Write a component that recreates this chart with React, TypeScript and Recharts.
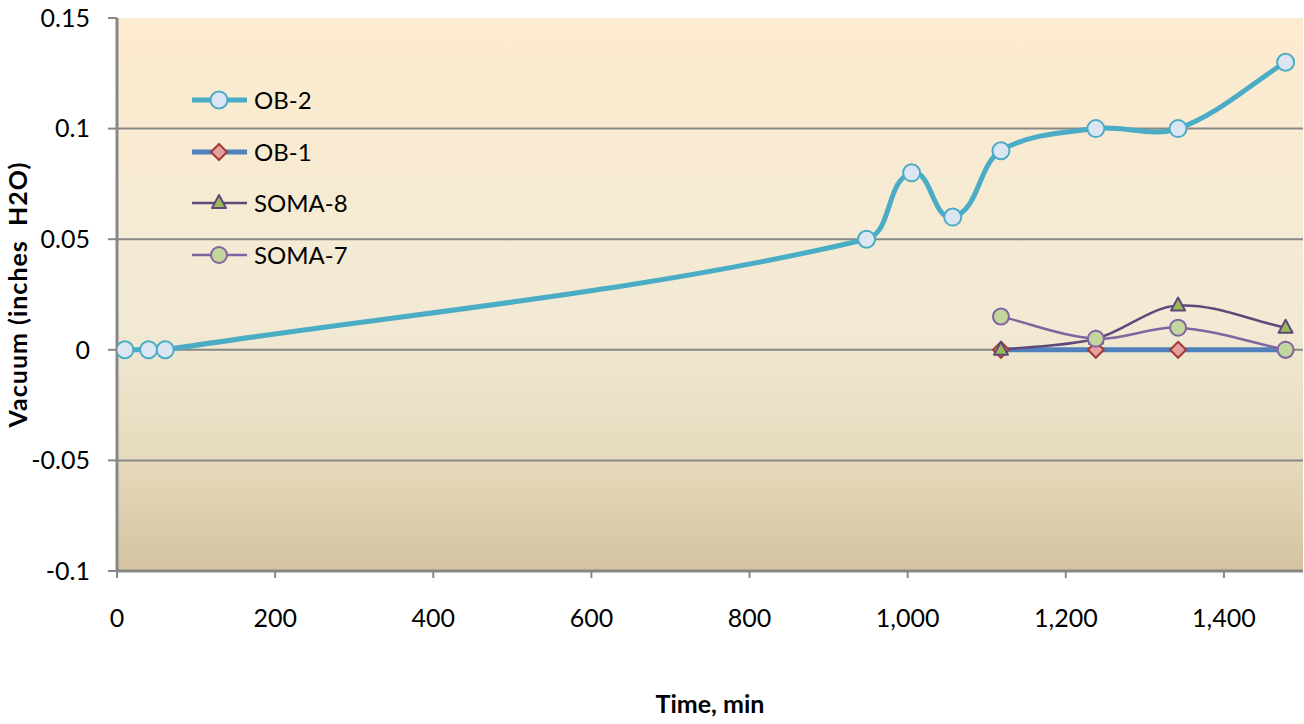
import React from 'react'
import { LineChart, Line, XAxis, YAxis, CartesianGrid, Legend } from 'recharts'

// OB-2 was read on its own time base, the other three share a later one
const ob2Time = [10, 40, 61, 948, 1005, 1057, 1118, 1238, 1342, 1478]
const ob2Vals = [0, 0, 0, 0.05, 0.08, 0.06, 0.09, 0.1, 0.1, 0.13]

const somaTime = [1118, 1238, 1342, 1478]
const ob1Vals = [0, 0, 0, 0]
const soma8Vals = [0, 0.005, 0.02, 0.01]
const soma7Vals = [0.015, 0.005, 0.01, 0]

const xTicks = [0, 200, 400, 600, 800, 1000, 1200, 1400]
const yTicks = [-0.1, -0.05, 0, 0.05, 0.1, 0.15]

const FONT = 'Lato, "Open Sans", sans-serif'
const AXIS_GRAY = '#878787'

const toRows = (t: number[], v: number[]) => t.map((x, i) => ({ t: x, v: v[i] }))

const ob2Data = toRows(ob2Time, ob2Vals)
const ob1Data = toRows(somaTime, ob1Vals)
const soma8Data = toRows(somaTime, soma8Vals)
const soma7Data = toRows(somaTime, soma7Vals)

// rough take on Excel's "smoothed line": tangent from neighbours,
// handle length scaled to each segment so short hops don't loop
function excelSmooth(context: any) {
  let pts: number[][] = []
  return {
    areaStart() {},
    areaEnd() {},
    lineStart() { pts = [] },
    point(x: number, y: number) { pts.push([+x, +y]) },
    lineEnd() {
      const n = pts.length
      if (!n) return
      context.moveTo(pts[0][0], pts[0][1])
      if (n === 1) return
      const tan = pts.map((p, i) => {
        const a = pts[Math.max(0, i - 1)]
        const b = pts[Math.min(n - 1, i + 1)]
        const dx = b[0] - a[0]
        const dy = b[1] - a[1]
        const len = Math.hypot(dx, dy) || 1
        return [dx / len, dy / len]
      })
      const s = 1 / 3
      for (let i = 0; i < n - 1; i++) {
        const p1 = pts[i]
        const p2 = pts[i + 1]
        const d = Math.hypot(p2[0] - p1[0], p2[1] - p1[1])
        context.bezierCurveTo(
          p1[0] + tan[i][0] * d * s, p1[1] + tan[i][1] * d * s,
          p2[0] - tan[i + 1][0] * d * s, p2[1] - tan[i + 1][1] * d * s,
          p2[0], p2[1],
        )
      }
    },
  }
}

const SERIES = {
  ob2: { name: 'OB-2', stroke: '#4BACC6', width: 5, fill: '#DCE6F2', mark: '#4BACC6' },
  ob1: { name: 'OB-1', stroke: '#4F81BD', width: 5, fill: '#E6A09E', mark: '#A33B36' },
  soma8: { name: 'SOMA-8', stroke: '#5F497A', width: 2.5, fill: '#9BBB59', mark: '#5F497A' },
  soma7: { name: 'SOMA-7', stroke: '#8064A2', width: 2.5, fill: '#C3D69B', mark: '#8064A2' },
}

function Marker({ kind, cx, cy }: { kind: string; cx: number; cy: number }) {
  if (kind === 'ob1') {
    const s = SERIES.ob1
    return (
      <polygon points={`${cx},${cy - 8} ${cx + 8},${cy} ${cx},${cy + 8} ${cx - 8},${cy}`}
        fill={s.fill} stroke={s.mark} strokeWidth={2} />
    )
  }
  if (kind === 'soma8') {
    const s = SERIES.soma8
    return (
      <polygon points={`${cx},${cy - 8} ${cx + 7},${cy + 5} ${cx - 7},${cy + 5}`}
        fill={s.fill} stroke={s.mark} strokeWidth={2} strokeLinejoin="round" />
    )
  }
  const s = (SERIES as any)[kind]
  return <circle cx={cx} cy={cy} r={kind === 'ob2' ? 8.5 : 8} fill={s.fill} stroke={s.mark} strokeWidth={2} />
}

const dotFor = (kind: string) => (props: any) => {
  const { cx, cy, index } = props
  if (cx == null || cy == null) return <g key={`${kind}-${index}`} />
  return (
    <g key={`${kind}-${index}`}>
      <Marker kind={kind} cx={cx} cy={cy} />
    </g>
  )
}

function LegendBox() {
  const order = ['ob2', 'ob1', 'soma8', 'soma7']
  return (
    <div style={{ fontFamily: FONT, fontSize: 24, color: '#000' }}>
      {order.map((k) => {
        const s = (SERIES as any)[k]
        return (
          <div key={k} style={{ display: 'flex', alignItems: 'center', height: 51.7 }}>
            <svg width={62} height={24} style={{ display: 'block' }}>
              <line x1={2} y1={12} x2={57} y2={12} stroke={s.stroke} strokeWidth={s.width} />
              <Marker kind={k} cx={29} cy={12} />
            </svg>
            <span style={{ marginLeft: 2, lineHeight: 1 }}>{s.name}</span>
          </div>
        )
      })}
    </div>
  )
}

export default function App() {
  const tickStyle = { fill: '#000', fontSize: 25, fontFamily: FONT }
  return (
    <div style={{ position: 'absolute', left: 0, top: 0, width: 1304, height: 724, background: '#fff' }}>
      <LineChart width={1304} height={724} margin={{ top: 18, right: 1, bottom: 0, left: 0 }}
        style={{ fontFamily: FONT }}>
        <defs>
          <linearGradient id="plotBg" x1="0" y1="0" x2="0" y2="1">
            <stop offset="0%" stopColor="#FDEBCF" />
            <stop offset="55%" stopColor="#F2EAD5" />
            <stop offset="80%" stopColor="#E6DABC" />
            <stop offset="100%" stopColor="#D3C3A0" />
          </linearGradient>
        </defs>
        <CartesianGrid vertical={false} fill="url(#plotBg)" fillOpacity={1}
          stroke={AXIS_GRAY} strokeWidth={2}
          horizontalValues={yTicks.filter((v) => v !== yTicks[0] && v !== yTicks[yTicks.length - 1])} />
        <XAxis type="number" dataKey="t" domain={[0, 1500]} ticks={xTicks} allowDataOverflow
          tickFormatter={(v) => Number(v).toLocaleString('en-US')}
          tick={tickStyle} tickSize={7} tickMargin={31} height={153}
          axisLine={{ stroke: AXIS_GRAY, strokeWidth: 3 }} tickLine={{ stroke: AXIS_GRAY, strokeWidth: 2 }}
          label={{ value: 'Time, min', position: 'insideBottom', offset: 11,
            style: { fontFamily: FONT, fontSize: 25, fontWeight: 700, fill: '#000' } }} />
        <YAxis type="number" domain={[-0.1, 0.15]} ticks={yTicks} allowDataOverflow width={117}
          tick={tickStyle} tickSize={9} tickMargin={18}
          axisLine={{ stroke: AXIS_GRAY, strokeWidth: 3 }} tickLine={{ stroke: AXIS_GRAY, strokeWidth: 2 }}
          label={{ value: 'Vacuum (inches\u00A0\u00A0H2O)', angle: -90, position: 'insideLeft', offset: 18,
            style: { textAnchor: 'middle', fontFamily: FONT, fontSize: 25, fontWeight: 700, fill: '#000', letterSpacing: 1 } }} />
        <Legend content={() => <LegendBox />} layout="vertical" align="center" verticalAlign="middle"
          wrapperStyle={{ position: 'absolute', left: 190, top: 74, width: 'auto' }} />
        <Line data={ob2Data} dataKey="v" name="OB-2" type={excelSmooth as any}
          stroke={SERIES.ob2.stroke} strokeWidth={SERIES.ob2.width} dot={dotFor('ob2')}
          isAnimationActive={false} />
        <Line data={ob1Data} dataKey="v" name="OB-1" type={excelSmooth as any}
          stroke={SERIES.ob1.stroke} strokeWidth={SERIES.ob1.width} dot={dotFor('ob1')}
          isAnimationActive={false} />
        <Line data={soma8Data} dataKey="v" name="SOMA-8" type={excelSmooth as any}
          stroke={SERIES.soma8.stroke} strokeWidth={SERIES.soma8.width} dot={dotFor('soma8')}
          isAnimationActive={false} />
        <Line data={soma7Data} dataKey="v" name="SOMA-7" type={excelSmooth as any}
          stroke={SERIES.soma7.stroke} strokeWidth={SERIES.soma7.width} dot={dotFor('soma7')}
          isAnimationActive={false} />
      </LineChart>
    </div>
  )
}
